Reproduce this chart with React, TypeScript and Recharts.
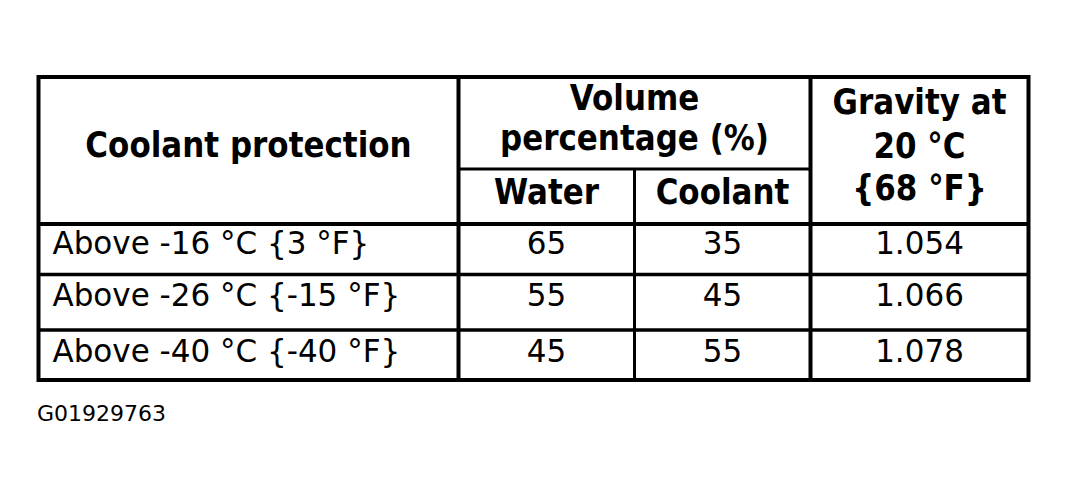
import React from 'react';
import {
  ScatterChart,
  Scatter,
  XAxis,
  YAxis,
  ReferenceLine,
  ReferenceArea,
  Customized,
} from 'recharts';

// ---------- data ----------
const protectionHeader = 'Coolant protection';
const volumeHeader = ['Volume', 'percentage (%)'];
const mixHeaders = ['Water', 'Coolant'];
const gravityHeader = ['Gravity at', '20 °C', '{68 °F}'];
const protectionLabels = ['Above -16 °C {3 °F}', 'Above -26 °C {-15 °F}', 'Above -40 °C {-40 °F}'];
const waterPct = [65, 55, 45];
const coolantPct = [35, 45, 55];
const gravityValues = ['1.054', '1.066', '1.078'];
const figureId = 'G01929763';

// ---------- layout (table units, 1 unit ~ 1px) ----------
const TABLE_W = 990;
const TABLE_H = 303;
const colEdges = [0, 420, 596, 772, TABLE_W];
const rowEdges = [0, 92, 147, 197.5, 253, TABLE_H];
const bodyBaselineOffsets = [30, 31.5, 31.5];
const labelInset = 14;

const FONT = '"DejaVu Sans", "Liberation Sans", Arial, sans-serif';

type Pt = { x: number; y: number; label: string };

const mid = (a: number, b: number) => (a + b) / 2;

const headerBold: Pt[] = [
  { x: mid(colEdges[0], colEdges[1]), y: 80, label: protectionHeader },
  { x: mid(colEdges[1], colEdges[3]), y: 33, label: volumeHeader[0] },
  { x: mid(colEdges[1], colEdges[3]), y: 73, label: volumeHeader[1] },
  { x: mid(colEdges[1], colEdges[2]), y: 127, label: mixHeaders[0] },
  { x: mid(colEdges[2], colEdges[3]), y: 127, label: mixHeaders[1] },
  { x: mid(colEdges[3], colEdges[4]), y: 37, label: gravityHeader[0] },
  { x: mid(colEdges[3], colEdges[4]), y: 81, label: gravityHeader[1] },
  { x: mid(colEdges[3], colEdges[4]), y: 123, label: gravityHeader[2] },
];

const bodyLabels: Pt[] = protectionLabels.map((label, i) => ({
  x: colEdges[0] + labelInset,
  y: rowEdges[i + 2] + bodyBaselineOffsets[i],
  label,
}));

const bodyValues: Pt[] = protectionLabels.flatMap((_, i) => {
  const y = rowEdges[i + 2] + bodyBaselineOffsets[i];
  return [
    { x: mid(colEdges[1], colEdges[2]), y, label: String(waterPct[i]) },
    { x: mid(colEdges[2], colEdges[3]), y, label: String(coolantPct[i]) },
    { x: mid(colEdges[3], colEdges[4]), y, label: gravityValues[i] },
  ];
});

const makeText =
  (anchor: 'start' | 'middle', weight: string, size: number, sy: number) =>
  (props: any) =>
    (
      <text
        x={0}
        y={0}
        transform={`translate(${props.cx},${props.cy}) scale(1,${sy})`}
        textAnchor={anchor}
        fontFamily={FONT}
        fontWeight={weight}
        fontSize={size}
        fill="#000"
      >
        {props.payload.label}
      </text>
    );

const Footnote = () => (
  <text x={37} y={421} fontFamily={FONT} fontSize={22} fill="#000">
    {figureId}
  </text>
);

export default function App() {
  const lineProps = { stroke: '#000', ifOverflow: 'visible' as const };
  return (
    <div style={{ position: 'absolute', left: 0, top: 0, width: 1068, height: 500, background: '#fff' }}>
      <ScatterChart
        width={1068}
        height={500}
        margin={{ top: 77, right: 39.5, bottom: 120, left: 38.5 }}
      >
        <XAxis type="number" dataKey="x" domain={[0, TABLE_W]} hide />
        <YAxis type="number" dataKey="y" domain={[0, TABLE_H]} reversed hide />

        {/* inner grid lines */}
        <ReferenceLine {...lineProps} strokeWidth={4} segment={[{ x: colEdges[1], y: 0 }, { x: colEdges[1], y: TABLE_H }]} />
        <ReferenceLine {...lineProps} strokeWidth={4} segment={[{ x: colEdges[3], y: 0 }, { x: colEdges[3], y: TABLE_H }]} />
        <ReferenceLine {...lineProps} strokeWidth={3} segment={[{ x: colEdges[2], y: rowEdges[1] }, { x: colEdges[2], y: TABLE_H }]} />
        <ReferenceLine {...lineProps} strokeWidth={3} segment={[{ x: colEdges[1], y: rowEdges[1] }, { x: colEdges[3], y: rowEdges[1] }]} />
        <ReferenceLine {...lineProps} strokeWidth={4} segment={[{ x: 0, y: rowEdges[2] }, { x: TABLE_W, y: rowEdges[2] }]} />
        <ReferenceLine {...lineProps} strokeWidth={3.5} segment={[{ x: 0, y: rowEdges[3] }, { x: TABLE_W, y: rowEdges[3] }]} />
        <ReferenceLine {...lineProps} strokeWidth={3.5} segment={[{ x: 0, y: rowEdges[4] }, { x: TABLE_W, y: rowEdges[4] }]} />

        {/* outer border */}
        <ReferenceArea
          x1={0}
          x2={TABLE_W}
          y1={0}
          y2={TABLE_H}
          fill="none"
          fillOpacity={0}
          stroke="#000"
          strokeWidth={4}
          ifOverflow="visible"
        />

        <Scatter data={headerBold} shape={makeText('middle', 'bold', 31, 1.12)} isAnimationActive={false} />
        <Scatter data={bodyLabels} shape={makeText('start', 'normal', 31, 1.04)} isAnimationActive={false} />
        <Scatter data={bodyValues} shape={makeText('middle', 'normal', 31, 1.04)} isAnimationActive={false} />

        <Customized component={Footnote} />
      </ScatterChart>
    </div>
  );
}
